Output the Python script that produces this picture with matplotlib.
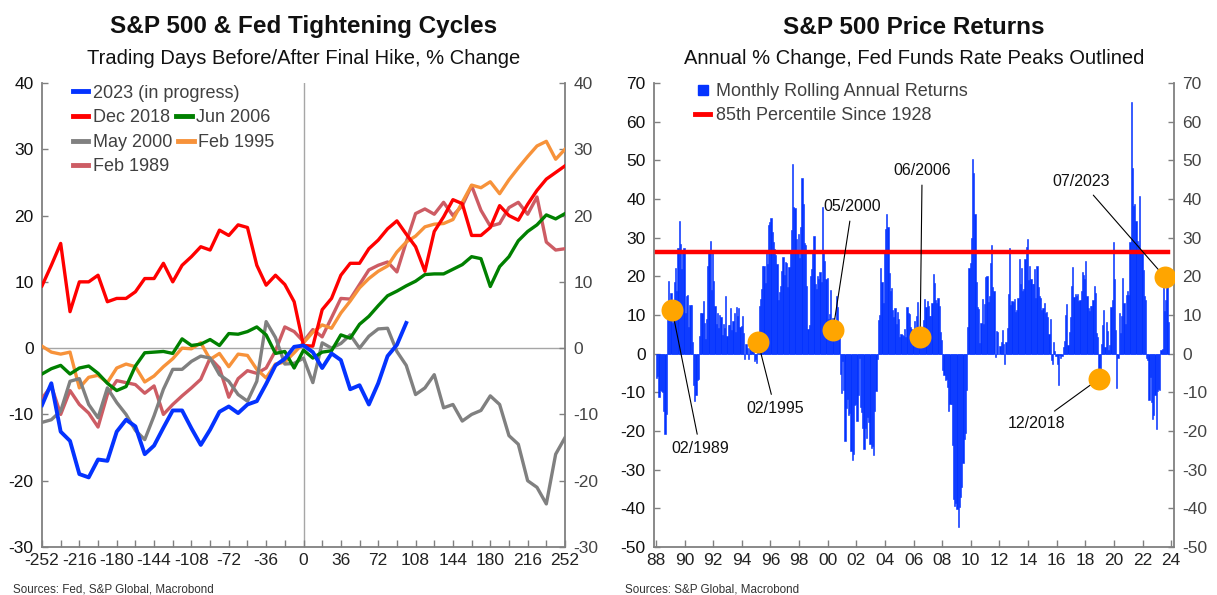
import numpy as np
import matplotlib.pyplot as plt
from matplotlib.lines import Line2D
from matplotlib.legend import Legend

plt.rcParams['font.family'] = ['Liberation Sans', 'DejaVu Sans']
plt.rcParams['axes.unicode_minus'] = False

# ---- left panel: S&P 500 % change around the final Fed hike (every 9th trading day) ----
days = list(range(-252, 253, 9))

cycle_2023 = [-8.6, -5.3, -12.6, -14.0, -19.0, -19.5, -16.8, -17.0, -12.6, -10.8,
              -11.8, -16.0, -14.7, -12.0, -9.4, -9.4, -12.1, -14.6, -12.3, -9.6,
              -8.8, -9.8, -8.5, -8.0, -5.4, -2.6, -1.6, 0.2, 0.4, -0.6,
              -3.0, -0.8, -1.8, -6.2, -5.6, -8.5, -5.3, -1.2, 0.5, 3.8]
cycle_dec2018 = [9.4, 12.5, 15.8, 5.5, 10.0, 10.0, 11.0, 7.0, 7.5, 7.5,
                 8.5, 10.5, 10.5, 12.8, 10.0, 12.5, 13.8, 15.3, 14.8, 17.8,
                 17.0, 18.6, 18.2, 12.5, 9.5, 11.0, 9.6, 7.0, 0.4, 0.3,
                 5.8, 7.5, 11.0, 12.8, 12.8, 15.0, 16.3, 18.0, 19.2, 17.2,
                 15.3, 11.6, 17.6, 19.8, 22.4, 21.8, 17.0, 17.0, 18.2, 21.5,
                 20.0, 19.3, 21.7, 23.8, 25.5, 26.5, 27.5]
cycle_jun2006 = [-3.9, -3.1, -2.6, -3.9, -3.0, -2.7, -3.8, -5.3, -6.4, -5.8,
                 -2.7, -0.7, -0.6, -0.5, -0.8, 1.4, 0.4, 0.6, 1.3, 0.4,
                 2.2, 2.1, 2.5, 3.2, 2.0, -0.8, -0.5, -3.0, -0.3, -1.5,
                 -0.6, -0.4, 2.0, 1.5, 3.6, 4.8, 6.4, 7.9, 8.6, 9.4,
                 10.1, 11.1, 11.2, 11.2, 11.9, 12.6, 13.8, 13.5, 9.3, 12.3,
                 13.8, 16.2, 17.6, 18.6, 20.1, 19.5, 20.3]
cycle_may2000 = [-11.2, -10.8, -9.5, -5.0, -4.6, -8.5, -10.5, -6.0, -8.2, -10.0,
                 -12.4, -13.8, -10.2, -6.2, -3.2, -3.2, -2.0, -1.2, -1.5, -4.0,
                 -5.0, -7.0, -8.0, -5.0, 4.0, 1.6, -2.4, -2.3, -1.5, -5.2,
                 0.8, 0.0, 0.7, 2.0, 0.0, 1.8, 2.9, 3.0, -0.5, -2.6,
                 -7.0, -6.0, -4.0, -9.0, -8.5, -11.0, -10.0, -9.4, -7.2, -8.5,
                 -13.2, -14.5, -20.0, -21.0, -23.5, -16.0, -13.5]
cycle_feb1995 = [0.3, -0.6, -0.9, -0.6, -6.0, -4.4, -4.1, -5.2, -3.0, -2.4,
                 -2.8, -5.1, -4.2, -2.8, -1.6, 0.0, -0.1, 0.8, -1.7, -0.8,
                 -2.8, -0.9, -1.1, -3.2, -4.5, -2.4, -2.1, -0.7, 0.8, 2.4,
                 3.5, 3.0, 5.3, 7.1, 9.1, 10.5, 11.6, 12.4, 14.5, 16.0,
                 16.9, 18.3, 18.7, 18.8, 19.4, 22.0, 24.6, 24.2, 25.1, 23.3,
                 25.4, 27.2, 28.9, 30.5, 31.2, 28.5, 30.0]
cycle_feb1989 = [-7.6, -5.7, -10.0, -6.4, -8.5, -9.8, -11.9, -7.0, -4.9, -5.2,
                 -5.5, -6.8, -5.7, -10.0, -8.5, -7.2, -6.0, -4.7, -1.5, -3.0,
                 -7.4, -4.6, -3.4, -3.8, -3.0, -0.4, 3.2, 2.5, 1.0, 2.8,
                 1.7, 4.6, 7.5, 7.4, 9.6, 11.8, 12.5, 13.0, 11.5, 16.0,
                 20.3, 21.0, 20.2, 22.0, 20.0, 21.5, 24.5, 20.8, 18.4, 18.8,
                 21.2, 22.0, 20.2, 22.8, 16.0, 14.8, 15.0]

# ---- right panel: monthly rolling annual returns, Jan 1988 .. Oct 2023 ----
returns_88_94 = [-6.2, -5.8, -11.2, -9.4, -9.6, -10.0, -14.7, -20.7, -15.5, 10.8, 18.8, 12.4,
                 15.7, 7.9, 13.9, 18.5, 22.2, 16.3, 27.2, 34.4, 28.4, 22.0, 26.4, 27.3,
                 10.6, 14.9, 15.3, 6.8, 12.7, 12.6, 2.9, -8.2, -12.3, -10.7, -6.9, -6.6,
                 4.5, 10.6, 10.4, 13.5, 7.9, 3.7, 8.9, 22.6, 26.7, 29.1, 16.4, 26.3,
                 18.9, 12.4, 7.6, 10.6, 6.6, 9.9, 9.4, 4.7, 7.7, 6.7, 15.0, 4.5,
                 7.3, 7.4, 11.9, 6.1, 8.4, 10.4, 5.6, 12.0, 9.8, 11.7, 7.0, 7.1,
                 9.8, 5.3, -1.3, 2.4, 1.4, -1.4, 2.3, 2.6, 0.8, 1.0, -1.8, -1.5]
returns_95_99 = [-2.3, 4.3, 12.3, 14.1, 16.8, 22.6, 22.6, 18.2, 26.3, 23.1, 33.4, 34.1,
                 35.2, 31.4, 28.9, 27.1, 25.4, 23.1, 13.9, 16.0, 17.6, 21.3, 25.0, 20.3,
                 23.6, 23.5, 17.3, 22.5, 26.8, 32.0, 49.1, 38.0, 37.8, 29.7, 26.2, 31.0,
                 24.7, 32.7, 45.5, 38.7, 28.6, 28.1, 17.4, 6.4, 7.4, 20.1, 21.8, 26.7,
                 30.5, 18.0, 16.8, 20.1, 19.3, 21.1, 18.6, 37.9, 26.1, 24.0, 19.4, 19.5]
returns_00_09 = [9.0, 10.3, 16.5, 8.8, 9.1, 6.0, 7.7, 14.9, 12.0, 4.9, -5.3, -10.1,
                 -2.0, -9.3, -22.6, -14.0, -11.6, -15.8, -15.3, -25.3, -27.5, -25.9, -13.4, -13.0,
                 -17.3, -10.7, -1.1, -13.8, -15.0, -19.2, -24.7, -19.2, -21.7, -16.4, -17.8, -23.4,
                 -24.3, -24.0, -26.1, -14.9, -9.7, -1.5, 8.6, 10.0, 22.2, 18.6, 13.0, 26.4,
                 32.2, 36.1, 32.8, 20.8, 16.3, 17.1, 11.2, 9.5, 11.9, 7.6, 10.9, 9.0,
                 4.4, 5.1, 4.8, 4.5, 6.3, 4.4, 12.0, 10.5, 10.2, 6.8, 6.4, 3.0,
                 8.4, 6.4, 9.7, 13.3, 6.6, 6.6, 3.4, 6.8, 8.7, 14.2, 12.1, 13.6,
                 12.4, 9.8, 9.7, 13.1, 20.5, 18.4, 14.0, 13.1, 14.3, 12.4, 5.7, 3.5,
                 -4.1, -5.4, -6.9, -6.5, -8.5, -14.9, -12.9, -13.0, -23.6, -37.5, -39.5, -38.5,
                 -40.1, -44.8, -39.7, -37.0, -34.4, -28.2, -22.1, -20.4, -9.4, 7.0, 22.2, 23.4]
returns_10_19 = [30.0, 50.3, 46.6, 36.0, 18.5, 12.1, 11.6, 2.8, 8.0, 14.2, 7.8, 12.8,
                 19.8, 20.2, 13.4, 14.9, 23.5, 28.1, 17.3, 16.2, -0.9, 5.9, 5.6, 0.0,
                 2.0, 2.9, 6.2, 2.5, -2.6, 3.1, 6.7, 15.4, 27.3, 12.7, 13.6, 13.4,
                 14.1, 10.9, 11.4, 14.3, 24.5, 17.9, 22.2, 16.1, 16.7, 24.4, 27.5, 29.6,
                 19.0, 22.8, 19.3, 17.9, 18.0, 22.0, 14.5, 22.7, 17.3, 14.9, 14.5, 11.4,
                 11.9, 13.2, 10.4, 10.7, 9.6, 5.2, 9.0, -1.6, -2.7, 3.0, 0.6, -0.7,
                 -2.7, -8.2, -0.4, -1.0, -0.5, 1.7, 3.3, 10.1, 12.9, 2.3, 5.7, 9.5,
                 17.5, 22.3, 14.7, 15.4, 15.0, 15.5, 13.7, 13.9, 16.2, 21.1, 20.4, 19.4,
                 23.9, 14.8, 11.8, 11.1, 12.2, 12.2, 14.0, 17.4, 15.7, 5.3, 4.3, -6.2,
                 -4.2, 2.6, 7.3, 11.2, 1.7, 8.2, 5.8, 0.9, 2.2, 12.0, 13.8, 28.9]
returns_20_23 = [19.3, 6.1, -8.8, -1.1, 10.6, 5.4, 9.8, 19.6, 13.0, 7.7, 15.3, 16.3,
                 15.2, 29.0, 65.0, 48.0, 38.1, 38.6, 34.4, 29.2, 28.1, 40.8, 26.1, 26.9,
                 21.6, 14.8, 14.0, -1.2, -1.7, -11.9, -6.0, -12.6, -16.8, -15.9, -10.7, -19.4,
                 -9.7, -9.2, -9.3, 0.9, 1.2, 17.6, 11.1, 14.0, 19.6, 8.3]
pct85 = 26.2

peak_labels = ['02/1989', '02/1995', '05/2000', '06/2006', '12/2018', '07/2023']
peak_years = [1989, 1995, 2000, 2006, 2018, 2023]
peak_months = [2, 2, 5, 6, 12, 7]
peak_values = [11.4, 3.1, 6.2, 4.4, -6.5, 19.9]

BLUE = '#0433FF'
GRAY_AX = '#808080'

W, H = 1217, 595
fig = plt.figure(figsize=(W / 100, H / 100), dpi=100)
ax1 = fig.add_axes([42 / W, 48 / H, 523 / W, 464 / H])
ax2 = fig.add_axes([654 / W, 48 / H, 520 / W, 464 / H])


def style_axes(ax):
    for side in ['left', 'right', 'bottom']:
        ax.spines[side].set_color(GRAY_AX)
        ax.spines[side].set_linewidth(1.3)
    ax.spines['top'].set_visible(False)
    ax.tick_params(axis='both', which='both', direction='in', color=GRAY_AX,
                   width=1, labelsize=12.5)
    ax.tick_params(axis='y', length=4, left=True, right=True,
                   labelleft=True, labelright=True, pad=6)
    ax.tick_params(axis='x', which='both', length=5, pad=4, labelcolor='#222222')
    for t in ax.yaxis.get_major_ticks():
        t.label1.set_color('#111111')
        t.label2.set_color('#444444')


# left panel
series = [(cycle_feb1989, 'Feb 1989', '#CD5C64', 2.4),
          (cycle_feb1995, 'Feb 1995', '#F7923A', 2.4),
          (cycle_may2000, 'May 2000', '#808080', 2.4),
          (cycle_jun2006, 'Jun 2006', '#008000', 2.4),
          (cycle_dec2018, 'Dec 2018', '#FF0000', 2.4),
          (cycle_2023, '2023 (in progress)', BLUE, 2.8)]
colors = {}
for vals, name, col, lw in series:
    ax1.plot(days[:len(vals)], vals, color=col, lw=lw, zorder=3)
    colors[name] = col

ax1.axhline(0, color='#a6a6a6', lw=1, zorder=1)
ax1.axvline(0, color='#a6a6a6', lw=1, zorder=1)
ax1.set_xlim(-252, 252)
ax1.set_ylim(-30, 40)
ax1.set_xticks(range(-252, 253, 36))
ax1.set_xticks(range(-252, 253, 18), minor=True)
ax1.set_yticks(range(-30, 41, 10))
style_axes(ax1)

# legend laid out row by row, like the original
rows = [(['2023 (in progress)'], 0.978),
        (['Dec 2018', 'Jun 2006'], 0.925),
        (['May 2000', 'Feb 1995'], 0.871),
        (['Feb 1989'], 0.819)]
for names, ypos in rows:
    hs = [Line2D([], [], color=colors[n], lw=3.5) for n in names]
    leg = Legend(ax1, hs, names, loc='center left', bbox_to_anchor=(0.059, ypos),
                 ncol=len(names), frameon=False, fontsize=13, borderpad=0,
                 borderaxespad=0, handlelength=0.85, handletextpad=0.25,
                 columnspacing=0.35, labelcolor='#404040')
    ax1.add_artist(leg)

# right panel
returns = returns_88_94 + returns_95_99 + returns_00_09 + returns_10_19 + returns_20_23
dates = 1988 + (np.arange(len(returns)) + 0.5) / 12
ax2.bar(dates, returns, width=1 / 12, color=BLUE, edgecolor=BLUE, linewidth=0.4, zorder=2)
ax2.plot(dates, [pct85] * len(dates), color='#FF0000', lw=3.2, zorder=3)

peak_x = [y + (m - 0.5) / 12 for y, m in zip(peak_years, peak_months)]
offsets = [(28, -139), (17, -67), (19, 123), (2, 166), (-62, -45), (-83, 95)]
for lab, x, v, off in zip(peak_labels, peak_x, peak_values, offsets):
    ax2.annotate(lab, xy=(x, v), xytext=off, textcoords='offset pixels',
                 ha='center', va='center', fontsize=11.5, color='#111111',
                 arrowprops=dict(arrowstyle='-', color='black', lw=0.8,
                                 shrinkA=3, shrinkB=0), zorder=4)
ax2.scatter(peak_x, peak_values, s=250, color='#FFA500', linewidths=0, zorder=5)

ax2.set_xlim(1987.86, 2024.2)
ax2.set_ylim(-50, 70)
yrs = list(range(1988, 2025, 2))
ax2.set_xticks(yrs)
ax2.set_xticklabels([f'{y % 100:02d}' for y in yrs])
ax2.set_yticks(range(-50, 71, 10))
style_axes(ax2)

h_bar = Line2D([], [], marker='s', ms=7, color=BLUE, ls='none')
h_line = Line2D([], [], color='#FF0000', lw=3.5)
ax2.legend([h_bar, h_line], ['Monthly Rolling Annual Returns', '85th Percentile Since 1928'],
           loc='upper left', bbox_to_anchor=(0.079, 1.0), frameon=False, fontsize=13,
           borderpad=0, borderaxespad=0, handlelength=0.85, handletextpad=0.3,
           labelspacing=0.4, labelcolor='#404040')

# titles and sources
for cx, title, sub in [(303.5, 'S&P 500 & Fed Tightening Cycles',
                        'Trading Days Before/After Final Hike, % Change'),
                       (914, 'S&P 500 Price Returns',
                        'Annual % Change, Fed Funds Rate Peaks Outlined')]:
    fig.text(cx / W, 1 - 27 / H, title, ha='center', va='center',
             fontsize=17.5, fontweight='bold', color='#111111')
    fig.text(cx / W, 1 - 59 / H, sub, ha='center', va='center',
             fontsize=14.5, color='#111111')

fig.text(13 / W, 1 - 589 / H, 'Sources: Fed, S&P Global, Macrobond',
         ha='left', va='center', fontsize=8.4, color='#333333')
fig.text(625 / W, 1 - 589 / H, 'Sources: S&P Global, Macrobond',
         ha='left', va='center', fontsize=8.4, color='#333333')

fig.savefig('out.png', dpi=100)
